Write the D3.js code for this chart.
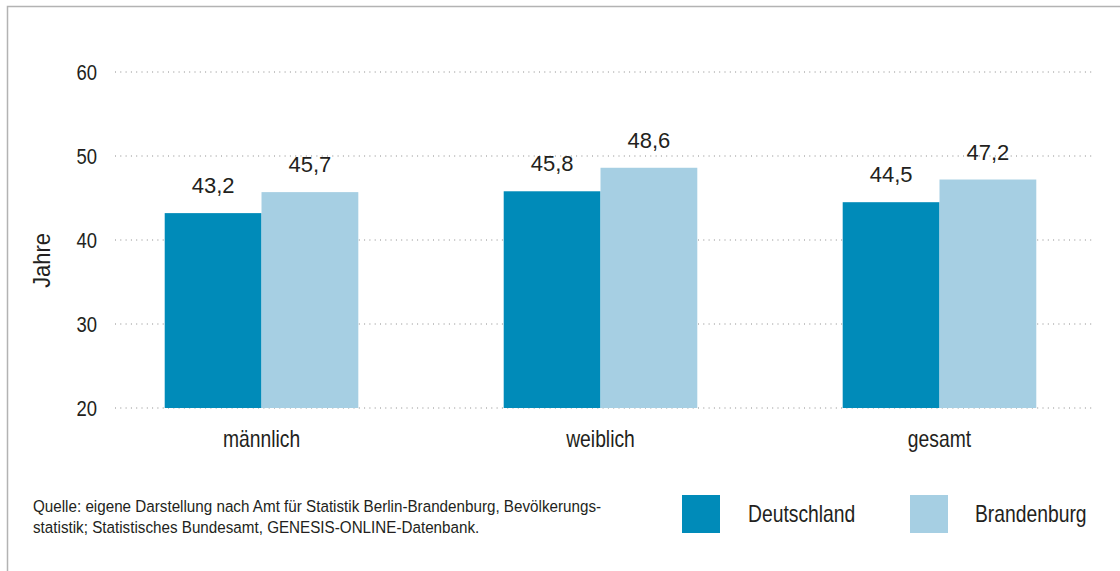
<!DOCTYPE html>
<html><head><meta charset="utf-8">
<script src="https://cdn.jsdelivr.net/npm/d3@7"></script>
<style>
html,body{margin:0;padding:0;background:#fff;}
svg{display:block;}
text{fill:#231f20;font-family:"Liberation Sans",Arial,sans-serif;}
</style></head>
<body>
<script>
const categories = ["männlich", "weiblich", "gesamt"];
const seriesNames = ["Deutschland", "Brandenburg"];
const deutschland = [43.2, 45.8, 44.5];
const brandenburg = [45.7, 48.6, 47.2];
const yTicks = [20, 30, 40, 50, 60];
const colors = ["#008bb9", "#a6cfe3"];
const sourceLines = [
  "Quelle: eigene Darstellung nach Amt für Statistik Berlin-Brandenburg, Bevölkerungs-",
  "statistik; Statistisches Bundesamt, GENESIS-ONLINE-Datenbank."
];
const yLabel = "Jahre";

const W = 1120, H = 571;
const NARROW = 0.84;
const svg = d3.select("body").append("svg").attr("width", W).attr("height", H);

// frame
svg.append("path").attr("d", `M7.5,${H} V6.5 H${W}`).attr("fill","none").attr("stroke","#b3b3b3").attr("stroke-width",1.5);

const y = d3.scaleLinear().domain([20, 60]).range([408, 72]);
const x0 = d3.scaleBand().domain(categories).range([112, 1089]).paddingInner(0.4289).paddingOuter(0.1555);
const x1 = d3.scaleBand().domain(seriesNames).range([0, x0.bandwidth()]);

// grid
svg.append("g").selectAll("line").data(yTicks).join("line")
  .attr("x1", 115).attr("x2", 1092)
  .attr("y1", d => y(d)).attr("y2", d => y(d))
  .attr("stroke", "#8a8a8a").attr("stroke-width", 1).attr("stroke-dasharray", "1,4.3");

// y axis labels
const yAxis = d3.axisLeft(y).tickValues(yTicks).tickSize(0).tickPadding(0).tickFormat(d3.format("d"));
const ya = svg.append("g").attr("transform", "translate(97,0)").call(yAxis);
ya.select(".domain").remove();
ya.selectAll("text").attr("font-family", null).attr("font-size", 22).attr("fill","#231f20")
  .attr("dy","0.36em").attr("transform", `scale(${NARROW},1)`);

svg.append("text").attr("font-size", 23)
  .attr("transform", "translate(50,260.5) rotate(-90) scale(0.95,1)").attr("text-anchor","middle").text(yLabel);

// bars
const data = categories.map((c, i) => ({c, vals: [deutschland[i], brandenburg[i]]}));
const groups = svg.append("g").selectAll("g").data(data).join("g")
  .attr("transform", d => `translate(${x0(d.c)},0)`);
groups.selectAll("rect").data(d => d.vals.map((v, j) => ({s: seriesNames[j], v, j}))).join("rect")
  .attr("x", d => x1(d.s)).attr("width", x1.bandwidth())
  .attr("y", d => y(d.v)).attr("height", d => y(20) - y(d.v))
  .attr("fill", d => colors[d.j]);
groups.selectAll("text").data(d => d.vals.map((v, j) => ({s: seriesNames[j], v, j}))).join("text")
  .attr("font-size", 22).attr("text-anchor","middle")
  .attr("x", d => x1(d.s) + x1.bandwidth()/2).attr("y", d => y(d.v) - 20)
  .text(d => d3.format(".1f")(d.v).replace(".", ","));

// x axis labels
const xAxis = d3.axisBottom(x0).tickSize(0).tickPadding(0);
const xa = svg.append("g").attr("transform", "translate(0,447)").call(xAxis);
xa.select(".domain").remove();
xa.selectAll("text").attr("font-family", null).attr("font-size", 23).attr("fill","#231f20")
  .attr("dy", 0).attr("transform", `scale(${NARROW},1)`);

// source
svg.append("g").selectAll("text").data(sourceLines).join("text")
  .attr("font-size", 17)
  .attr("transform", (d,i) => `translate(33,${512 + i*21}) scale(0.895,1)`).text(d => d);

// legend
const legX = [682, 910];
const legTextX = [748, 975];
const lg = svg.append("g").selectAll("g").data(seriesNames).join("g");
lg.append("rect").attr("x", (d,i) => legX[i]).attr("y", 495).attr("width", 38).attr("height", 38).attr("fill", (d,i) => colors[i]);
lg.append("text").attr("font-size", 23)
  .attr("transform", (d,i) => `translate(${legTextX[i]},522) scale(${NARROW},1)`).text(d => d);
</script>
</body></html>
